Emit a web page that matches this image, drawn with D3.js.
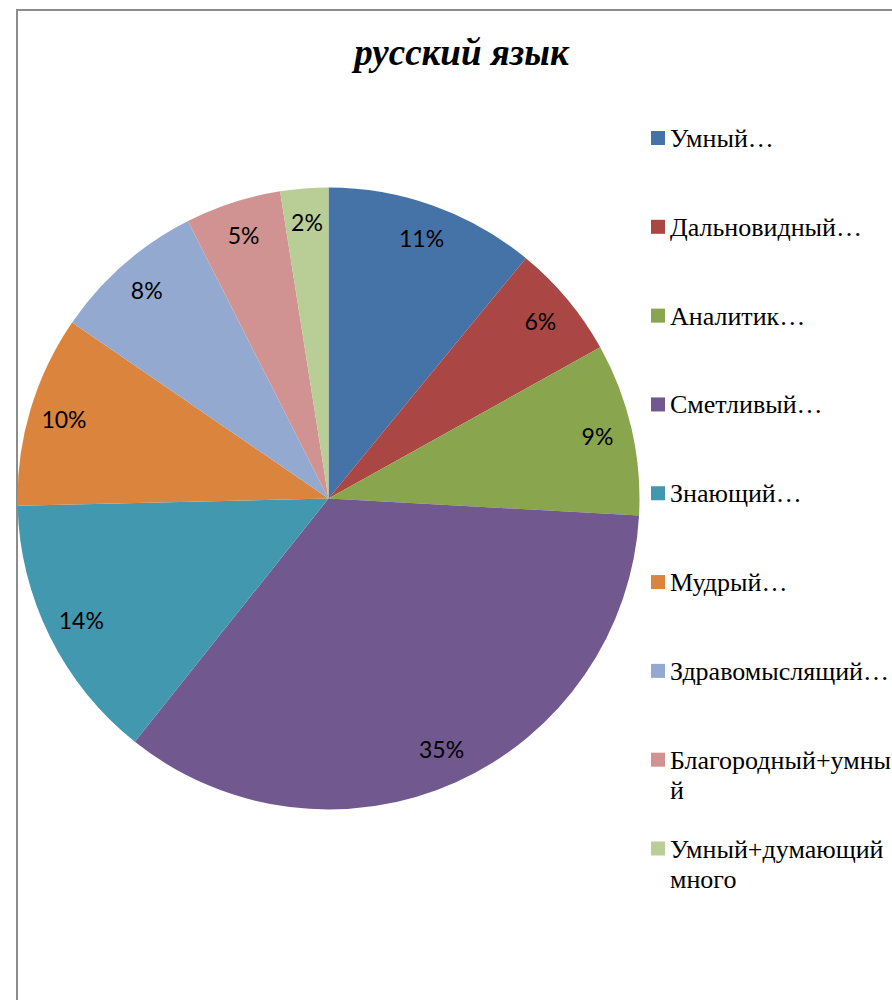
<!DOCTYPE html>
<html>
<head>
<meta charset="utf-8">
<script src="https://cdn.jsdelivr.net/npm/d3@7/dist/d3.min.js"></script>
<style>
  html, body { margin: 0; padding: 0; background: #fff; overflow: hidden; }
  svg { display: block; }
</style>
</head>
<body>
<svg id="chart" width="892" height="1000"></svg>
<script>
// Chart data
const title = "русский язык";
const categories = [
  "Умный…", "Дальновидный…", "Аналитик…", "Сметливый…", "Знающий…",
  "Мудрый…", "Здравомыслящий…", "Благородный+умный", "Умный+думающий много"
];
// Legend text as laid out (wrapped lines)
const legendLines = [
  ["Умный…"], ["Дальновидный…"], ["Аналитик…"], ["Сметливый…"], ["Знающий…"],
  ["Мудрый…"], ["Здравомыслящий…"], ["Благородный+умны", "й"], ["Умный+думающий", "много"]
];
// Number of answers per category
const counts = [22, 12, 18, 70, 28, 20, 16, 10, 5];
const colors = ["#4572A7", "#AA4643", "#89A54E", "#71588F", "#4198AF",
                "#DB843D", "#93A9CF", "#D19392", "#B9CD96"];

const total = d3.sum(counts);
const pctText = v => Math.round(v / total * 100) + "%";

const svg = d3.select("#chart");
const W = 892, H = 1000;
const serif = "'Liberation Serif', 'Times New Roman', serif";

// Chart area border (left and top edges visible)
svg.append("path")
  .attr("d", `M17,${H} L17,10 L${W},10`)
  .attr("fill", "none")
  .attr("stroke", "#8c8c8c")
  .attr("stroke-width", 2);

// Title
svg.append("text")
  .attr("x", 461.5)
  .attr("y", 65)
  .attr("text-anchor", "middle")
  .attr("font-family", serif)
  .attr("font-weight", "bold")
  .attr("font-style", "italic")
  .attr("font-size", 37)
  .attr("fill", "#000")
  .text(title);

// Pie
const cx = 328.5, cy = 498.5, R = 311;
const pie = d3.pie().sort(null).value(d => d.value);
const arcs = pie(counts.map((v, i) => ({ value: v, name: categories[i], color: colors[i] })));
const arc = d3.arc().innerRadius(0).outerRadius(R);
const labelArc = d3.arc().innerRadius(276).outerRadius(276);

const g = svg.append("g").attr("transform", `translate(${cx},${cy})`);
g.selectAll("path.slice")
  .data(arcs)
  .join("path")
  .attr("class", "slice")
  .attr("d", arc)
  .attr("fill", d => d.data.color);

g.selectAll("text.pct")
  .data(arcs)
  .join("text")
  .attr("class", "pct")
  .attr("transform", d => `translate(${labelArc.centroid(d)})`)
  .attr("text-anchor", "middle")
  .attr("dy", "0.35em")
  .attr("font-family", "Lato, 'Open Sans', sans-serif")
  .attr("font-size", 23)
  .attr("fill", "#000")
  .text(d => pctText(d.data.value));

// Legend
const legendY = d3.scalePoint().domain(d3.range(categories.length)).range([138, 848.5]);
const lg = svg.append("g");
const items = lg.selectAll("g.item")
  .data(categories.map((c, i) => ({ i, lines: legendLines[i], color: colors[i] })))
  .join("g")
  .attr("class", "item")
  .attr("transform", d => `translate(0,${legendY(d.i)})`);
items.append("rect")
  .attr("x", 651).attr("y", -7)
  .attr("width", 14).attr("height", 14)
  .attr("fill", d => d.color);
items.append("text")
  .attr("font-family", serif)
  .attr("font-size", 26)
  .attr("fill", "#000")
  .selectAll("tspan")
  .data(d => d.lines)
  .join("tspan")
  .attr("x", 670)
  .attr("y", (d, k) => 9 + k * 30)
  .text(d => d);
</script>
</body>
</html>
